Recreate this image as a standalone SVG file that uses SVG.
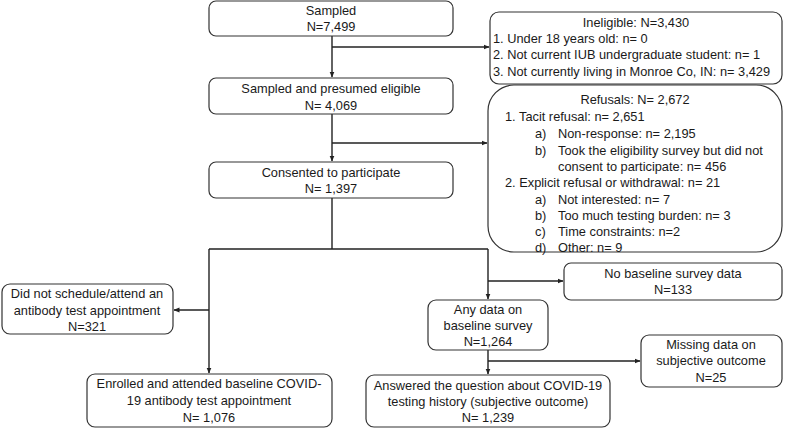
<svg xmlns="http://www.w3.org/2000/svg" width="786" height="428" viewBox="0 0 786 428">
<style>
rect{fill:#fff;stroke:#333;stroke-width:1.2}
text{font-family:"Liberation Sans",Arial,sans-serif;font-size:12.8px;fill:#1a1a1a}
.c{text-anchor:middle}
.ln{fill:none;stroke:#222;stroke-width:1.4}
</style>
<defs>
<marker id="ah" markerWidth="6" markerHeight="6" refX="5.5" refY="3" orient="auto" markerUnits="userSpaceOnUse">
<path d="M0,0.5 L6,3 L0,5.5 Z" fill="#222"/>
</marker>
</defs>
<rect width="786" height="428" style="fill:#fff;stroke:none"/>
<g id="connectors">
<path class="ln" d="M332,36 V77" marker-end="url(#ah)"/>
<path class="ln" d="M332,47 H489" marker-end="url(#ah)"/>
<path class="ln" d="M332,114 V161" marker-end="url(#ah)"/>
<path class="ln" d="M332,143 H487" marker-end="url(#ah)"/>
<path class="ln" d="M332,198 V249 M209,249 H488"/>
<path class="ln" d="M209,249 V373" marker-end="url(#ah)"/>
<path class="ln" d="M209,310 H174" marker-end="url(#ah)"/>
<path class="ln" d="M488,249 V299" marker-end="url(#ah)"/>
<path class="ln" d="M488,281 H563" marker-end="url(#ah)"/>
<path class="ln" d="M488,350 V374" marker-end="url(#ah)"/>
<path class="ln" d="M488,361 H640" marker-end="url(#ah)"/>
</g>
<g id="sampled">
<rect x="209" y="1" width="244" height="35" rx="7"/>
<text class="c" x="331" y="15">Sampled</text>
<text class="c" x="331" y="31">N=7,499</text>
</g>
<g id="eligible">
<rect x="209" y="78" width="244" height="36" rx="7"/>
<text class="c" x="331" y="93">Sampled and presumed eligible</text>
<text class="c" x="331" y="110">N= 4,069</text>
</g>
<g id="consented">
<rect x="209" y="162" width="244" height="36" rx="7"/>
<text class="c" x="331" y="177">Consented to participate</text>
<text class="c" x="331" y="193">N= 1,397</text>
</g>
<g id="ineligible">
<rect x="490" y="12" width="292" height="72" rx="9"/>
<text class="c" x="636" y="27">Ineligible: N=3,430</text>
<text x="493" y="43">1. Under 18 years old: n= 0</text>
<text x="493" y="59">2. Not current IUB undergraduate student: n= 1</text>
<text x="493" y="76">3. Not currently living in Monroe Co, IN: n= 3,429</text>
</g>
<g id="refusals">
<rect x="488" y="85" width="294" height="167" rx="26"/>
<text class="c" x="635" y="104">Refusals: N= 2,672</text>
<text x="505" y="121">1. Tacit refusal: n= 2,651</text>
<text x="535" y="138">a)</text><text x="558" y="138">Non-response: n= 2,195</text>
<text x="535" y="155">b)</text><text x="558" y="155">Took the eligibility survey but did not</text>
<text x="558" y="171">consent to participate: n= 456</text>
<text x="505" y="187">2. Explicit refusal or withdrawal: n= 21</text>
<text x="535" y="204">a)</text><text x="558" y="204">Not interested: n= 7</text>
<text x="535" y="220">b)</text><text x="558" y="220">Too much testing burden: n= 3</text>
<text x="535" y="236">c)</text><text x="558" y="236">Time constraints: n=2</text>
<text x="535" y="252">d)</text><text x="558" y="252">Other: n= 9</text>
</g>
<g id="no-schedule">
<rect x="2" y="284" width="171" height="50" rx="8"/>
<text class="c" x="87" y="298">Did not schedule/attend an</text>
<text class="c" x="87" y="315">antibody test appointment</text>
<text class="c" x="87" y="331">N=321</text>
</g>
<g id="no-baseline">
<rect x="564" y="263" width="218" height="37" rx="7"/>
<text class="c" x="673" y="278">No baseline survey data</text>
<text class="c" x="673" y="294">N=133</text>
</g>
<g id="any-data">
<rect x="428" y="300" width="120" height="50" rx="8"/>
<text class="c" x="488" y="314">Any data on</text>
<text class="c" x="488" y="330">baseline survey</text>
<text class="c" x="488" y="346">N=1,264</text>
</g>
<g id="missing">
<rect x="641" y="335" width="141" height="52" rx="8"/>
<text class="c" x="711" y="349">Missing data on</text>
<text class="c" x="711" y="365">subjective outcome</text>
<text class="c" x="711" y="382">N=25</text>
</g>
<g id="enrolled">
<rect x="87" y="374" width="245" height="53" rx="8"/>
<text class="c" x="209" y="388">Enrolled and attended baseline COVID-</text>
<text class="c" x="209" y="405">19 antibody test appointment</text>
<text class="c" x="209" y="422">N= 1,076</text>
</g>
<g id="answered">
<rect x="366" y="375" width="244" height="52" rx="8"/>
<text class="c" x="488" y="390">Answered the question about COVID-19</text>
<text class="c" x="488" y="406">testing history (subjective outcome)</text>
<text class="c" x="488" y="422">N= 1,239</text>
</g>
</svg>
